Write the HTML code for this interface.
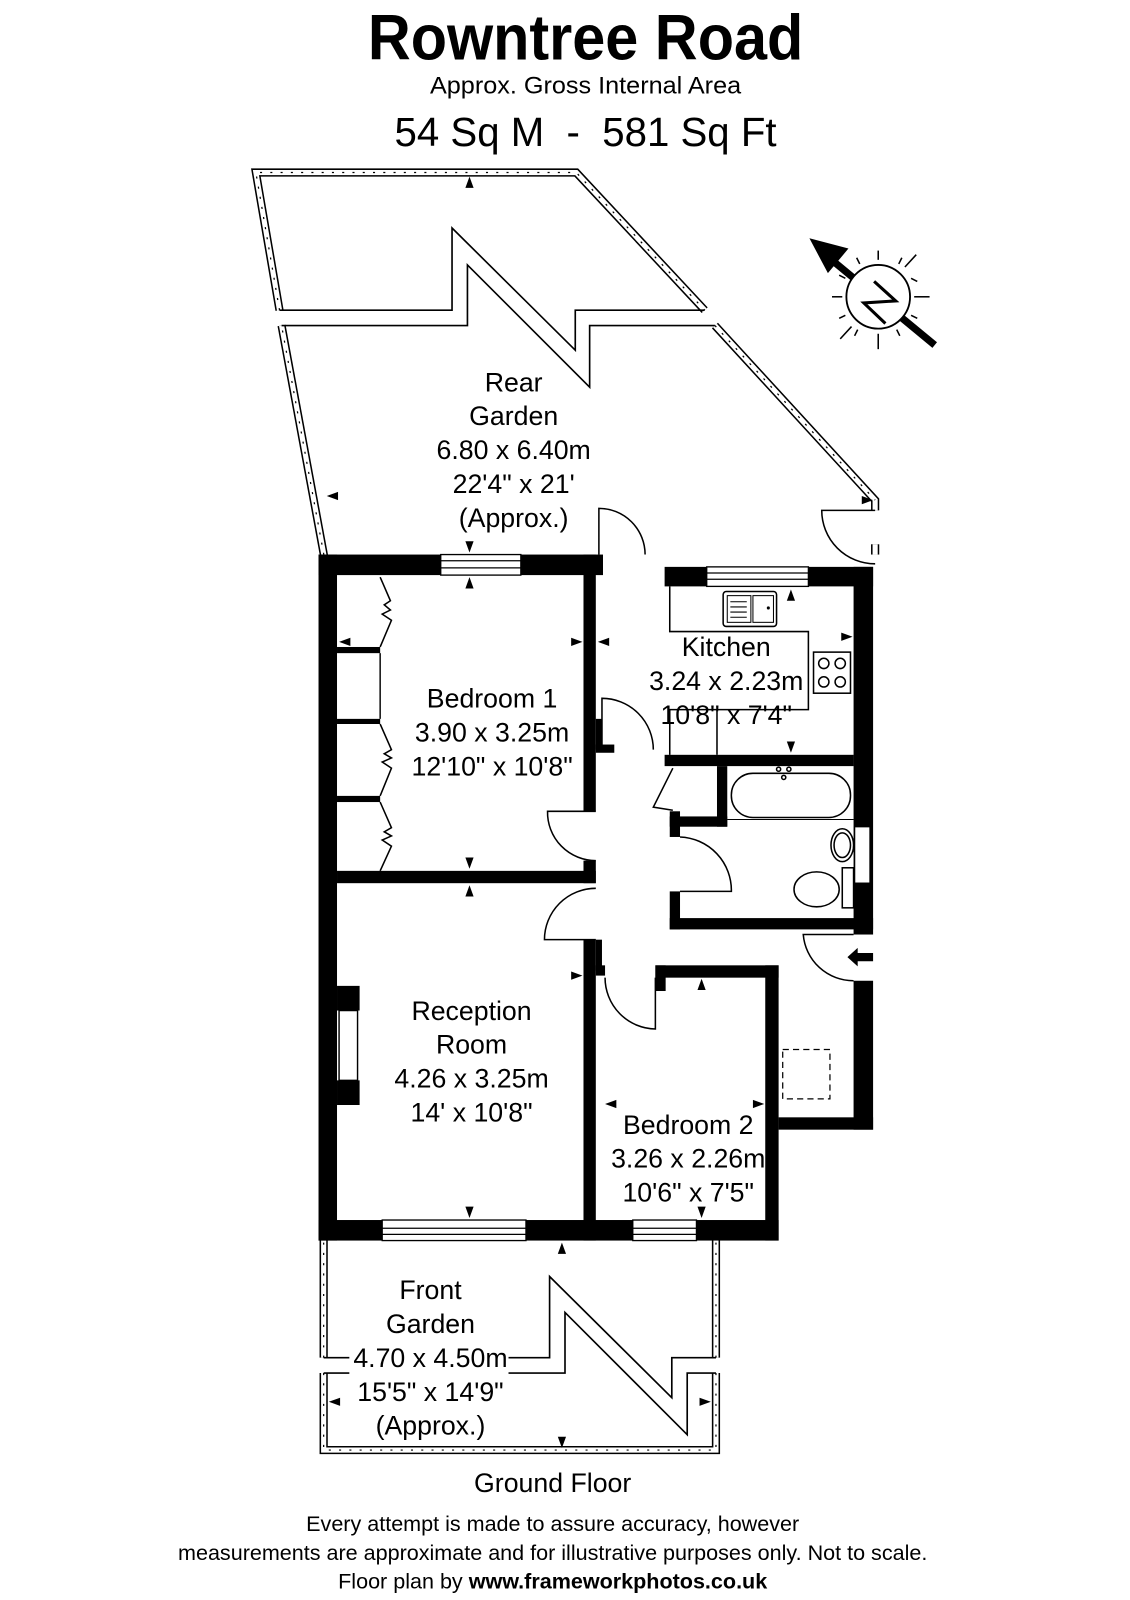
<!DOCTYPE html>
<html><head><meta charset="utf-8"><style>
html,body{margin:0;padding:0;background:#fff;}
svg{display:block;}
text{font-family:"Liberation Sans",Arial,sans-serif;fill:#000;}
</style></head><body>
<svg width="1130" height="1600" viewBox="0 0 1100 1558" xmlns="http://www.w3.org/2000/svg">
<rect x="0" y="0" width="1100" height="1558" fill="#fff"/>
<text x="570" y="58" font-size="62" font-weight="bold" text-anchor="middle" textLength="424" lengthAdjust="spacingAndGlyphs">Rowntree Road</text>
<text x="570" y="91" font-size="23" text-anchor="middle" textLength="303" lengthAdjust="spacingAndGlyphs">Approx. Gross Internal Area</text>
<text x="570" y="142" font-size="40" text-anchor="middle" xml:space="preserve" textLength="372" lengthAdjust="spacingAndGlyphs">54 Sq M  -  581 Sq Ft</text>

<g fill="none" stroke-linejoin="miter">
<g stroke="#000" stroke-width="8">
<polyline points="272,302 249,168 561,168 686,302"/>
<polyline points="317,550 274,317"/>
<polyline points="696,317 852,487 852,497"/>
<polyline points="852,530 852,540"/>
<polyline points="315,1190 315,1322"/><polyline points="315,1337 315,1412 697,1412 697,1337"/><polyline points="697,1322 697,1190"/>
</g>
<g stroke="#fff" stroke-width="5">
<polyline points="272,302 249,168 561,168 686,302"/>
<polyline points="317,550 274,317"/>
<polyline points="696,317 852,487 852,497"/>
<polyline points="852,530 852,540"/>
<polyline points="315,1190 315,1322"/><polyline points="315,1337 315,1412 697,1412 697,1337"/><polyline points="697,1322 697,1190"/>
</g>
<g stroke="#000" stroke-width="1.2" stroke-dasharray="2,8">
<polyline points="272,302 249,168 561,168 686,302"/>
<polyline points="317,550 274,317"/>
<polyline points="696,317 852,487"/>
<polyline points="315,1190 315,1322"/><polyline points="315,1337 315,1412 697,1412 697,1337"/><polyline points="697,1322 697,1190"/>
</g>
<g stroke="#000" stroke-width="1.6">
<polyline points="272,302 440,302 440,222 560,341 560,302 686,302"/>
<polyline points="274,317 455,317 455,258 574,377 574,317 696,317"/>
<polyline points="315,1322 340,1322"/>
<polyline points="495,1322 535,1322 535,1243 654,1361 654,1322 697,1322"/>
<polyline points="315,1337 340,1337"/>
<polyline points="495,1337 550,1337 550,1278 669,1397 669,1337 697,1337"/>
</g>
</g>

<g fill="#000">
<rect x="310" y="540" width="119" height="20"/>
<rect x="507" y="540" width="80" height="20"/>
<rect x="647" y="552" width="41" height="19"/>
<rect x="787" y="552" width="63" height="19"/>
<rect x="310" y="540" width="18" height="668"/>
<rect x="310" y="1188" width="62" height="20"/>
<rect x="512" y="1188" width="104" height="20"/>
<rect x="678" y="1188" width="80" height="20"/>
<rect x="568" y="540" width="12" height="250"/>
<rect x="568" y="838" width="12" height="22"/>
<rect x="328" y="848" width="252" height="12"/>
<rect x="568" y="915" width="12" height="293"/>
<rect x="580" y="915" width="6" height="30"/>
<rect x="580" y="700" width="6" height="30"/>
<rect x="647" y="735" width="184" height="11"/>
<rect x="580" y="725" width="18" height="8"/>
<rect x="831" y="552" width="19" height="358"/>
<rect x="698" y="746" width="10" height="59"/>
<rect x="652" y="795" width="56" height="10"/>
<rect x="652" y="790" width="10" height="25"/>
<rect x="652" y="868" width="10" height="37"/>
<rect x="652" y="894" width="198" height="11"/>
<rect x="831" y="955" width="19" height="145"/>
<rect x="758" y="1088" width="92" height="12"/>
<rect x="745" y="940" width="13" height="268"/>
<rect x="638" y="940" width="120" height="12"/>
<rect x="638" y="940" width="10" height="25"/>
<rect x="580" y="940" width="9" height="10"/>
<rect x="328" y="960" width="22" height="24"/>
<rect x="328" y="1052" width="22" height="24"/>
<rect x="328" y="630" width="42" height="6"/>
<rect x="328" y="700" width="42" height="5"/>
<rect x="328" y="775" width="42" height="6"/>
</g>
<rect x="330" y="984" width="18" height="68" fill="none" stroke="#000" stroke-width="1.4"/>
<line x1="370" y1="636" x2="370" y2="700" stroke="#000" stroke-width="1.4"/>

<g fill="#fff" stroke="#000" stroke-width="1.3">
<rect x="429" y="540" width="78" height="20"/>
<rect x="688" y="552" width="99" height="19"/>
<rect x="372" y="1188" width="140" height="20"/>
<rect x="616" y="1188" width="62" height="20"/>
<rect x="832" y="805" width="15" height="55"/>
</g>
<g stroke="#000" stroke-width="1.2">
<line x1="429" y1="546" x2="507" y2="546"/><line x1="429" y1="553" x2="507" y2="553"/>
<line x1="688" y1="558" x2="787" y2="558"/><line x1="688" y1="564" x2="787" y2="564"/>
<line x1="372" y1="1202" x2="512" y2="1202"/><line x1="372" y1="1196" x2="512" y2="1196"/>
<line x1="616" y1="1202" x2="678" y2="1202"/><line x1="616" y1="1196" x2="678" y2="1196"/>
</g>

<g fill="none" stroke="#000" stroke-width="1.5">
<path d="M583,540 L583,495 A45,45 0 0 1 628,540"/>
<path d="M852,497 L800,497 A52,52 0 0 0 852,549"/>
<path d="M586,730 L586,680 A50,50 0 0 1 636,730"/>
<path d="M580,790 L533,790 A47,47 0 0 0 580,838"/>
<path d="M580,915 L530,915 A50,50 0 0 1 580,865"/>
<path d="M638,952 L638,1002 A50,50 0 0 1 589,952"/>
<path d="M662,868 L712,868 A52,52 0 0 0 662,815"/>
<path d="M831,910 L782,910 A49,49 0 0 0 831,955"/>
<polyline points="655,748 636,786 655,789"/>
<polyline points="370,562 380,585 374,589 380,594 372,598 381,604 370,630"/>
<polyline points="370,705 381,730 374,734 381,738 372,742 381,748 370,775"/>
<polyline points="370,781 381,806 374,810 381,814 372,818 381,824 370,848"/>
<polyline points="652,571 652,615 787,615 787,691 652,691 652,735"/>
<line x1="698" y1="691" x2="698" y2="735"/>
<rect x="704" y="576" width="52" height="34" rx="3"/>
<rect x="708" y="580" width="23" height="26" stroke-width="1"/>
<rect x="733" y="580" width="20" height="26" stroke-width="1"/>
<line x1="711" y1="586" x2="727" y2="586" stroke-width="1"/><line x1="711" y1="591" x2="727" y2="591" stroke-width="1"/><line x1="711" y1="596" x2="727" y2="596" stroke-width="1"/><line x1="711" y1="601" x2="727" y2="601" stroke-width="1"/>
<rect x="792" y="635" width="36" height="40"/>
<circle cx="802" cy="646" r="5"/><circle cx="818" cy="646" r="5"/><circle cx="802" cy="664" r="5"/><circle cx="818" cy="664" r="5"/>
<rect x="712" y="753" width="116" height="43" rx="21"/>
<line x1="708" y1="798" x2="831" y2="798" stroke-width="1"/>
<circle cx="758" cy="749" r="2"/><circle cx="768" cy="749" r="2"/><circle cx="763" cy="757" r="2"/>
<ellipse cx="820" cy="823" rx="11" ry="16"/>
<ellipse cx="820" cy="823" rx="8" ry="12"/>
<ellipse cx="795" cy="866" rx="22" ry="17"/>
<rect x="820" y="845" width="11" height="39"/>
<rect x="762" y="1022" width="46" height="48" stroke-dasharray="6,4" stroke-width="1.2"/>
</g>
<circle cx="748" cy="592" r="1.5" fill="#000"/>

<polygon points="825,932 835,923 835,928 850,928 850,936 835,936 835,941" fill="#000"/>

<g stroke="#000" fill="none">
<line x1="812" y1="255" x2="910" y2="336" stroke-width="7"/>
<polygon points="788,232 826,242 806,266" fill="#000" stroke="none"/>
<circle cx="855" cy="289" r="31" fill="#fff" stroke-width="1.8"/>
<g stroke-width="1.5">
<line x1="855" y1="244" x2="855" y2="253"/><line x1="855" y1="325" x2="855" y2="340"/>
<line x1="810" y1="289" x2="820" y2="289"/><line x1="890" y1="289" x2="905" y2="289"/>
<line x1="881" y1="260" x2="892" y2="248"/><line x1="829" y1="318" x2="818" y2="330"/>
<line x1="837" y1="257" x2="834" y2="251"/><line x1="873" y1="321" x2="876" y2="327"/>
<line x1="823" y1="271" x2="817" y2="268"/><line x1="887" y1="307" x2="893" y2="310"/>
<line x1="875" y1="257" x2="878" y2="251"/><line x1="835" y1="321" x2="832" y2="327"/>
<line x1="823" y1="307" x2="817" y2="310"/><line x1="887" y1="271" x2="893" y2="274"/>
</g>
<polyline points="851,274 872,293 841,295 862,315" stroke-width="3"/>
</g>

<g fill="#000">
<polygon points="457,172 453,183 461,183"/>
<polygon points="457,538 453,527 461,527"/>
<polygon points="318,483 329,479 329,487"/>
<polygon points="850,487 839,483 839,491"/>
<polygon points="457,562 453,573 461,573"/>
<polygon points="457,846 453,835 461,835"/>
<polygon points="330,625 341,621 341,629"/>
<polygon points="567,625 556,621 556,629"/>
<polygon points="582,625 593,621 593,629"/>
<polygon points="770,574 766,585 774,585"/>
<polygon points="770,733 766,722 774,722"/>
<polygon points="830,620 819,616 819,624"/>
<polygon points="457,862 453,873 461,873"/>
<polygon points="457,1186 453,1175 461,1175"/>
<polygon points="330,968 341,964 341,972"/>
<polygon points="567,950 556,946 556,954"/>
<polygon points="683,953 679,964 687,964"/>
<polygon points="683,1186 679,1175 687,1175"/>
<polygon points="589,1075 600,1071 600,1079"/>
<polygon points="744,1075 733,1071 733,1079"/>
<polygon points="547,1210 543,1221 551,1221"/>
<polygon points="547,1410 543,1399 551,1399"/>
<polygon points="320,1365 331,1361 331,1369"/>
<polygon points="692,1365 681,1361 681,1369"/>
</g>

<g font-size="26" text-anchor="middle">
<text x="500" y="381">Rear</text>
<text x="500" y="414">Garden</text>
<text x="500" y="447">6.80 x 6.40m</text>
<text x="500" y="480">22'4" x 21'</text>
<text x="500" y="513">(Approx.)</text>
<text x="479" y="689">Bedroom 1</text>
<text x="479" y="722">3.90 x 3.25m</text>
<text x="479" y="755">12'10" x 10'8"</text>
<text x="707" y="639">Kitchen</text>
<text x="707" y="672">3.24 x 2.23m</text>
<text x="707" y="705">10'8" x 7'4"</text>
<text x="459" y="993">Reception</text>
<text x="459" y="1026">Room</text>
<text x="459" y="1059">4.26 x 3.25m</text>
<text x="459" y="1092">14' x 10'8"</text>
<text x="670" y="1104">Bedroom 2</text>
<text x="670" y="1137">3.26 x 2.26m</text>
<text x="670" y="1170">10'6" x 7'5"</text>
<text x="419" y="1265">Front</text>
<text x="419" y="1298">Garden</text>
<text x="419" y="1331">4.70 x 4.50m</text>
<text x="419" y="1364">15'5" x 14'9"</text>
<text x="419" y="1397">(Approx.)</text>
<text x="538" y="1453">Ground Floor</text>
</g>
<g font-size="21" text-anchor="middle">
<text x="538" y="1491">Every attempt is made to assure accuracy, however</text>
<text x="538" y="1519">measurements are approximate and for illustrative purposes only. Not to scale.</text>
<text x="538" y="1547">Floor plan by <tspan font-weight="bold">www.frameworkphotos.co.uk</tspan></text>
</g>
</svg>
</body></html>
